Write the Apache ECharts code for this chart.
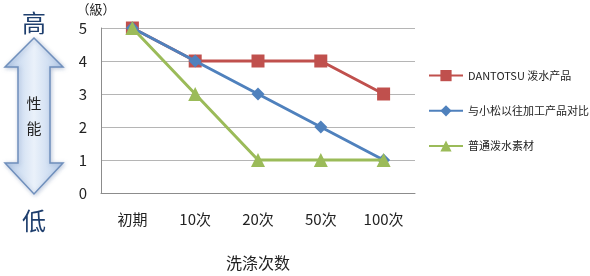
<!DOCTYPE html>
<html><head><meta charset="utf-8">
<script src="https://cdn.jsdelivr.net/npm/echarts@6/dist/echarts.min.js"></script>
<style>html,body{margin:0;padding:0;background:#fff}#c{width:590px;height:276px}</style>
</head><body><div id="c"></div>
<script>
const categories = ['初期', '10次', '20次', '50次', '100次'];
const seriesNames = ['DANTOTSU 泼水产品', '与小松以往加工产品对比', '普通泼水素材'];
const dantotsu = [5, 4, 4, 4, 3];
const komatsu = [5, 4, 3, 2, 1];
const ordinary = [5, 3, 1, 1, 1];
const yTicks = [0, 1, 2, 3, 4, 5];

const font = '"Noto Sans CJK SC", "Noto Sans", sans-serif';
const chart = echarts.init(document.getElementById('c'), null, {renderer: 'canvas'});
const cx = 34;
const arrowPts = [[cx,38],[63,67],[50,67],[50,163],[63,163],[cx,194],[5,163],[18,163],[18,67],[5,67]];
chart.setOption({
  animation: false,
  textStyle: {fontFamily: font},
  grid: {left: 101, right: 175, top: 28, bottom: 83, outerBoundsMode: 'none', containLabel: false},
  xAxis: {
    type: 'category', data: categories,
    axisTick: {show: false},
    axisLine: {lineStyle: {color: '#8c8c8c'}},
    axisLabel: {color: '#222', fontSize: 15, margin: 19, fontFamily: font},
    name: '洗涤次数', nameLocation: 'middle', nameGap: 62,
    nameTextStyle: {color: '#222', fontSize: 16, fontFamily: font}
  },
  yAxis: {
    type: 'value', min: yTicks[0], max: yTicks[yTicks.length-1], interval: 1,
    axisLine: {show: true, lineStyle: {color: '#8c8c8c'}},
    axisTick: {show: false},
    splitLine: {lineStyle: {color: '#b5b5b5'}},
    axisLabel: {color: '#222', fontSize: 15, margin: 14, fontFamily: font},
    name: '（級）', nameLocation: 'end', nameGap: 12,
    nameTextStyle: {color: '#222', fontSize: 13, align: 'center', padding: [0, 0, 0, -10], fontFamily: font}
  },
  legend: {
    orient: 'vertical', left: 423, top: 65, itemGap: 24,
    itemWidth: 34, itemHeight: 14,
    textStyle: {color: '#222', fontSize: 11, fontFamily: font},
    data: seriesNames
  },
  series: [
    {name: seriesNames[0], type: 'line', data: dantotsu, symbol: 'rect', symbolSize: 13,
     lineStyle: {width: 3, color: '#C0504D'}, itemStyle: {color: '#C0504D'}, z: 2},
    {name: seriesNames[1], type: 'line', data: komatsu, symbol: 'diamond', symbolSize: 13,
     lineStyle: {width: 3, color: '#4F81BD'}, itemStyle: {color: '#4F81BD'}, z: 3},
    {name: seriesNames[2], type: 'line', data: ordinary, symbol: 'triangle', symbolSize: 14,
     lineStyle: {width: 3, color: '#9BBB59'}, itemStyle: {color: '#9BBB59'}, z: 4}
  ],
  graphic: [
    {type: 'polygon', shape: {points: arrowPts},
     style: {fill: new echarts.graphic.LinearGradient(0,0,1,0,[{offset:0,color:'#b7cdea'},{offset:0.5,color:'#eaf1fa'},{offset:1,color:'#b7cdea'}]),
             stroke: '#6f8fbc', lineWidth: 1.5, shadowBlur: 4, shadowColor: 'rgba(80,110,160,0.35)', shadowOffsetX: 1, shadowOffsetY: 1}},
    {type: 'text', style: {text: '高', x: cx, y: 23, align: 'center', verticalAlign: 'middle', fontSize: 24, fill: '#1f3f6e', fontFamily: font}},
    {type: 'text', style: {text: '低', x: cx, y: 221, align: 'center', verticalAlign: 'middle', fontSize: 24, fill: '#1f3f6e', fontFamily: font}},
    {type: 'text', style: {text: '性', x: cx, y: 103, align: 'center', verticalAlign: 'middle', fontSize: 15, fill: '#222', fontFamily: font}},
    {type: 'text', style: {text: '能', x: cx, y: 128, align: 'center', verticalAlign: 'middle', fontSize: 15, fill: '#222', fontFamily: font}}
  ]
});
</script></body></html>
